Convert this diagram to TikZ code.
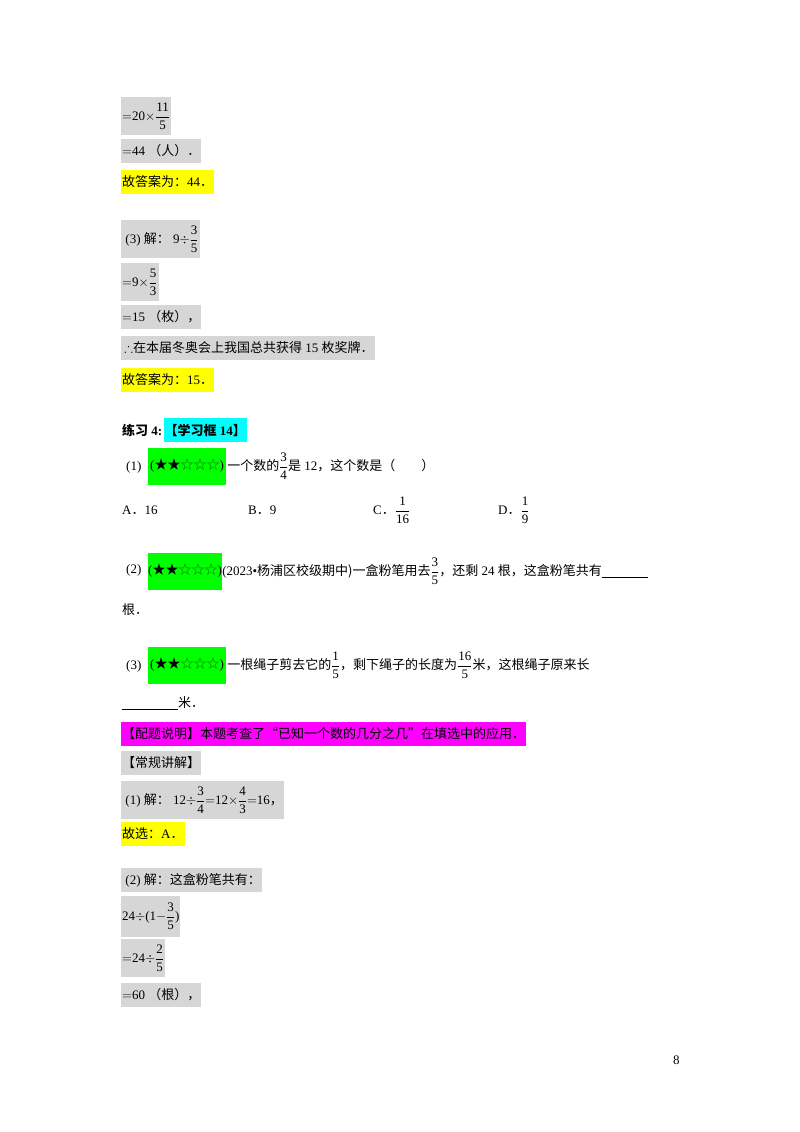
\RequirePackage{fix-cm}
\documentclass[tikz,border=0pt]{standalone}
\usepackage{amsmath,amssymb}
\usepackage{fontspec}
\setmainfont{Liberation Serif}
\newfontfamily\cjk{Noto Sans CJK SC}
\newcommand{\zh}[1]{{\cjk #1}}
\newcommand{\pd}{\zh{．}}
\newcommand{\fr}[2]{\ensuremath{\dfrac{\text{#1}}{\text{#2}}}}
\definecolor{boxgray}{RGB}{214,214,214}
\definecolor{hlyellow}{RGB}{255,255,0}
\definecolor{hlcyan}{RGB}{0,255,255}
\definecolor{hlgreen}{RGB}{0,255,0}
\definecolor{hlpink}{RGB}{255,0,255}
\tikzset{
  line/.style={anchor=west,inner xsep=1pt,inner ysep=0pt,font=\fontsize{13}{15}\selectfont},
  gray box/.style={line,fill=boxgray,minimum height=24pt},
  frac box/.style={line,fill=boxgray,minimum height=38pt},
  yellow box/.style={line,fill=hlyellow,minimum height=24pt},
  star box/.style={line,fill=hlgreen,minimum height=37pt,inner xsep=2pt},
}
\newcommand{\stars}{(\zh{★★}{\color{green!45!black}\zh{☆☆☆}})}
\begin{document}
\begin{tikzpicture}[x=1pt,y=-1pt]
  \useasboundingbox[fill=white] (0,0) rectangle (800,1132);

  % first part
  \node[frac box] (l1) at (121,116) {$=$20$\times$\fr{11}{5}};
  \node[gray box] (l2) at (121,151) {$=$44\ \zh{（人）．}};
  \node[yellow box] (l3) at (121,182) {\zh{故答案为：}44\pd};
  \node[frac box] (l4) at (121,239) {\ (3)\ \zh{解：}\ 9$\div$\fr{3}{5}};
  \node[frac box] (l5) at (121,282) {$=$9$\times$\fr{5}{3}};
  \node[gray box] (l6) at (121,317) {$=$15\ \zh{（枚），}};
  \node[gray box] (l7) at (121,348) {\,$\therefore$\zh{在本届冬奥会上我国总共获得} 15 \zh{枚奖牌．}};
  \node[yellow box] (l8) at (121,380) {\zh{故答案为：}15\pd};

  % exercise
  \node[line] (ex) at (121,430) {\textbf{\zh{练习} 4:}};
  \node[line,fill=hlcyan,minimum height=24pt] (exbox) at (ex.east) {\zh{\bfseries 【学习框} \textbf{14}\zh{\bfseries 】}};

  \node[line] (q1) at (125,467) {(1)};
  \node[star box] (s1) at (148,466) {\stars};
  \node[line] (q1t) at (s1.east) {\zh{一个数的}\fr{3}{4}\zh{是} 12\zh{，这个数是（\qquad ）}};

  \node[line] (oa) at (121,510) {A\pd 16};
  \node[line] (ob) at (247,510) {B\pd 9};
  \node[line] (oc) at (372,510) {C\pd \fr{1}{16}};
  \node[line] (od) at (497,510) {D\pd \fr{1}{9}};

  \node[line] (q2) at (125,570) {(2)};
  \node[star box,inner xsep=0pt] (s2) at (148,571) {\stars};
  \node[line,inner xsep=0pt] (q2t) at (s2.east) {(2023•\zh{杨浦区校级期中)一盒粉笔用去}\fr{3}{5}\zh{，还剩} 24 \zh{根，这盒粉笔共有}\rule[-2pt]{46pt}{0.5pt}};
  \node[line] (q2e) at (121,610) {\zh{根．}};

  \node[line] (q3) at (125,666) {(3)};
  \node[star box] (s3) at (148,665) {\stars};
  \node[line] (q3t) at (s3.east) {\zh{一根绳子剪去它的}\fr{1}{5}\zh{，剩下绳子的长度为}\fr{16}{5}\zh{米，这根绳子原来长}};
  \node[line] (q3e) at (121,703) {\rule[-2pt]{56pt}{0.5pt}\zh{米．}};

  % explanation
  \node[line,fill=hlpink,minimum height=24pt] (note) at (121,734) {\zh{【配题说明】本题考查了“已知一个数的几分之几”在填选中的应用．}};
  \node[gray box] (jj) at (121,763) {\zh{【常规讲解】}};
  \node[frac box] (a1) at (121,800) {\ (1)\ \zh{解：}\ 12$\div$\fr{3}{4}$=$12$\times$\fr{4}{3}$=$16\zh{，}};
  \node[yellow box] (a2) at (121,834) {\zh{故选：}A\pd};
  \node[gray box] (a3) at (121,880) {\ (2)\ \zh{解：这盒粉笔共有：}};
  \node[line,fill=boxgray,minimum height=41pt] (a4) at (121,916) {24$\div$(1$-$\fr{3}{5})};
  \node[frac box] (a5) at (121,958) {$=$24$\div$\fr{2}{5}};
  \node[gray box] (a6) at (121,995) {$=$60\ \zh{（根），}};

  \node[line] (pg) at (672,1060) {8};
\end{tikzpicture}
\end{document}
